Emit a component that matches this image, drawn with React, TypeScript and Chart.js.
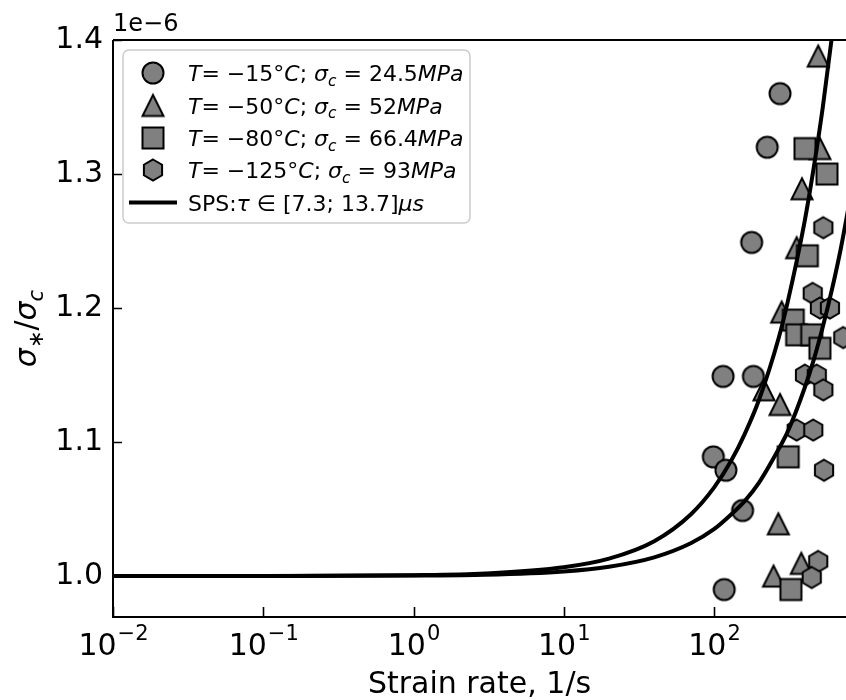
import React, { useEffect, useRef } from 'react';
import { Chart, registerables } from 'chart.js';

Chart.register(...registerables);

// ---- data ----
const circleX = [275, 226, 178, 115, 183, 99, 120, 155, 117];
const circleY = [1.36, 1.32, 1.249, 1.149, 1.149, 1.089, 1.079, 1.049, 0.99];

const triangleX = [494, 507, 385, 355, 282, 215, 275, 268, 249, 381];
const triangleY = [1.388, 1.319, 1.289, 1.245, 1.197, 1.139, 1.128, 1.039, 1.0, 1.0095];

const squareX = [403, 565, 418, 337, 355, 447, 507, 312, 325];
const squareY = [1.319, 1.3, 1.239, 1.191, 1.18, 1.18, 1.17, 1.089, 0.99];

const hexX = [534, 454, 507, 591, 725, 403, 483, 534, 355, 458, 540, 494, 447];
const hexY = [1.26, 1.211, 1.2, 1.2, 1.178, 1.15, 1.15, 1.139, 1.109, 1.109, 1.079, 1.011, 0.999];

const curveX = [0.01, 0.1, 1, 3, 10, 20, 40, 70, 100, 130, 160, 200, 270, 310, 400, 460, 530, 610, 700, 800];
const sps1Y = [1.0, 1.0001, 1.0007, 1.002, 1.0066, 1.013, 1.026, 1.046, 1.066, 1.086, 1.106, 1.132, 1.178, 1.205, 1.264, 1.304, 1.35, 1.403, 1.462, 1.528];
const sps2Y = [1.0, 1.00004, 1.0004, 1.001, 1.0035, 1.007, 1.014, 1.0245, 1.035, 1.046, 1.056, 1.07, 1.095, 1.108, 1.14, 1.161, 1.186, 1.214, 1.245, 1.28];

const xTickValues = [0.01, 0.1, 1, 10, 100];
const xTickExponents = ['\u22122', '\u22121', '0', '1', '2'];
const yTickValues = [1.0, 1.1, 1.2, 1.3, 1.4];

const FONT = '"DejaVu Sans", sans-serif';
const GRAY = '#808080';

type Seg = { t: string; it?: boolean; sub?: boolean };

const legendRows: Seg[][] = [
  [{ t: 'T', it: true }, { t: '= ' }, { t: '\u221215\u00b0' }, { t: 'C', it: true }, { t: '; ' }, { t: '\u03c3', it: true }, { t: 'c', it: true, sub: true }, { t: ' = 24.5' }, { t: 'MPa', it: true }],
  [{ t: 'T', it: true }, { t: '= ' }, { t: '\u221250\u00b0' }, { t: 'C', it: true }, { t: '; ' }, { t: '\u03c3', it: true }, { t: 'c', it: true, sub: true }, { t: ' = 52' }, { t: 'MPa', it: true }],
  [{ t: 'T', it: true }, { t: '= ' }, { t: '\u221280\u00b0' }, { t: 'C', it: true }, { t: '; ' }, { t: '\u03c3', it: true }, { t: 'c', it: true, sub: true }, { t: ' = 66.4' }, { t: 'MPa', it: true }],
  [{ t: 'T', it: true }, { t: '= ' }, { t: '\u2212125\u00b0' }, { t: 'C', it: true }, { t: '; ' }, { t: '\u03c3', it: true }, { t: 'c', it: true, sub: true }, { t: ' = 93' }, { t: 'MPa', it: true }],
  [{ t: 'SPS:' }, { t: '\u03c4', it: true }, { t: ' \u2208 ' }, { t: '[7.3; 13.7]' }, { t: '\u03bcs', it: true }],
];

const yLabelSegs: Seg[] = [
  { t: '\u03c3', it: true }, { t: '\u2217', sub: true }, { t: '/' }, { t: '\u03c3', it: true }, { t: 'c', it: true, sub: true },
];

function makeMarker(shape: string): HTMLCanvasElement {
  const S = 28;
  const c = document.createElement('canvas');
  c.width = S;
  c.height = S;
  const g = c.getContext('2d')!;
  const cx = S / 2, cy = S / 2, r = 10.5;
  g.beginPath();
  if (shape === 'circle') {
    g.arc(cx, cy, r, 0, Math.PI * 2);
  } else if (shape === 'triangle') {
    g.moveTo(cx, cy - r);
    g.lineTo(cx + r, cy + r);
    g.lineTo(cx - r, cy + r);
    g.closePath();
  } else if (shape === 'square') {
    g.rect(cx - r, cy - r, 2 * r, 2 * r);
  } else {
    for (let k = 0; k < 6; k++) {
      const a = -Math.PI / 2 + (k * Math.PI) / 3;
      const px = cx + r * Math.cos(a), py = cy + r * Math.sin(a);
      if (k === 0) g.moveTo(px, py); else g.lineTo(px, py);
    }
    g.closePath();
  }
  g.fillStyle = GRAY;
  g.fill();
  g.lineWidth = 2;
  g.lineJoin = 'miter';
  g.strokeStyle = '#000';
  g.stroke();
  return c;
}

function drawRich(ctx: CanvasRenderingContext2D, segs: Seg[], x: number, y: number, size: number, align: 'left' | 'center') {
  const parts = segs.map((s) => {
    const fs = s.sub ? size * 0.7 : size;
    const font = `${s.it ? 'italic ' : ''}${fs}px ${FONT}`;
    ctx.font = font;
    return { s, font, w: ctx.measureText(s.t).width };
  });
  const total = parts.reduce((a, p) => a + p.w, 0);
  let cx = align === 'center' ? x - total / 2 : x;
  ctx.textAlign = 'left';
  ctx.textBaseline = 'alphabetic';
  for (const p of parts) {
    ctx.font = p.font;
    ctx.fillText(p.s.t, cx, y + (p.s.sub ? size * 0.22 : 0));
    cx += p.w;
  }
}

export default function App() {
  const ref = useRef<HTMLCanvasElement | null>(null);

  useEffect(() => {
    const canvas = ref.current;
    if (!canvas) return;
    const markers = {
      circle: makeMarker('circle'),
      triangle: makeMarker('triangle'),
      square: makeMarker('square'),
      hex: makeMarker('hex'),
    };

    const decor = {
      id: 'decor',
      afterDraw(chart: any) {
        const ctx: CanvasRenderingContext2D = chart.ctx;
        const area = chart.chartArea;
        const xs = chart.scales.x;
        const ys = chart.scales.y;
        ctx.save();
        ctx.fillStyle = '#000';
        ctx.strokeStyle = '#000';
        // spines
        ctx.lineWidth = 2;
        ctx.beginPath();
        ctx.moveTo(area.left, area.top);
        ctx.lineTo(area.left, area.bottom);
        ctx.lineTo(area.right + 2, area.bottom);
        ctx.moveTo(area.left, area.top);
        ctx.lineTo(area.right + 2, area.top);
        ctx.stroke();
        // inward ticks
        ctx.lineWidth = 1.6;
        ctx.beginPath();
        xTickValues.forEach((v) => {
          const px = Math.round(xs.getPixelForValue(v)) + 0.5;
          ctx.moveTo(px, area.bottom);
          ctx.lineTo(px, area.bottom - 10);
        });
        yTickValues.forEach((v) => {
          const py = Math.round(ys.getPixelForValue(v)) + 0.5;
          ctx.moveTo(area.left, py);
          ctx.lineTo(area.left + 9, py);
        });
        ctx.stroke();
        // x tick labels 10^n
        xTickValues.forEach((v, i) => {
          const px = xs.getPixelForValue(v);
          ctx.font = `30px ${FONT}`;
          const wb = ctx.measureText('10').width;
          ctx.font = `21px ${FONT}`;
          const we = ctx.measureText(xTickExponents[i]).width;
          const x0 = px - (wb + we) / 2;
          ctx.textAlign = 'left';
          ctx.textBaseline = 'alphabetic';
          ctx.font = `30px ${FONT}`;
          ctx.fillText('10', x0, 655);
          ctx.font = `21px ${FONT}`;
          ctx.fillText(xTickExponents[i], x0 + wb + 1, 640);
        });
        // x title
        ctx.font = `30px ${FONT}`;
        ctx.textAlign = 'center';
        ctx.textBaseline = 'alphabetic';
        ctx.fillText('Strain rate, 1/s', (area.left + 846) / 2, 693);
        // offset text
        ctx.font = `24px ${FONT}`;
        ctx.textAlign = 'left';
        ctx.fillText('1e\u22126', area.left, 31);
        // y title rotated
        ctx.save();
        ctx.translate(36, (area.top + area.bottom) / 2);
        ctx.rotate(-Math.PI / 2);
        drawRich(ctx, yLabelSegs, 0, 0, 30, 'center');
        ctx.restore();
        // legend
        const lx = 123, ly = 50, lw = 347, lh = 173;
        ctx.beginPath();
        ctx.roundRect(lx, ly, lw, lh, 6);
        ctx.fillStyle = 'rgba(255,255,255,0.8)';
        ctx.fill();
        ctx.strokeStyle = '#cccccc';
        ctx.lineWidth = 1.5;
        ctx.stroke();
        const rowY = [73, 105.5, 138, 170, 202.5];
        const imgs = [markers.circle, markers.triangle, markers.square, markers.hex];
        ctx.fillStyle = '#000';
        rowY.forEach((ry, i) => {
          if (i < 4) {
            const im = imgs[i];
            ctx.drawImage(im, 153 - im.width / 2, ry - im.height / 2);
          } else {
            ctx.strokeStyle = '#000';
            ctx.lineWidth = 4;
            ctx.beginPath();
            ctx.moveTo(129, ry);
            ctx.lineTo(177, ry);
            ctx.stroke();
          }
          drawRich(ctx, legendRows[i], 188, ry + 8, 22, 'left');
        });
        ctx.restore();
      },
    };

    const pts = (xs: number[], ys: number[]) => xs.map((x, i) => ({ x, y: ys[i] }));

    const chart = new Chart(canvas, {
      type: 'scatter',
      data: {
        datasets: [
          { type: 'line', label: 'SPS 1', data: pts(curveX, sps1Y), borderColor: '#000', borderWidth: 4, pointRadius: 0, cubicInterpolationMode: 'monotone', fill: false, order: 1, clip: 0 } as any,
          { type: 'line', label: 'SPS 2', data: pts(curveX, sps2Y), borderColor: '#000', borderWidth: 4, pointRadius: 0, cubicInterpolationMode: 'monotone', fill: false, order: 1, clip: 0 } as any,
          { label: 'T=-15', data: pts(circleX, circleY), pointStyle: markers.circle, pointRadius: 11, order: 5, clip: 0 } as any,
          { label: 'T=-50', data: pts(triangleX, triangleY), pointStyle: markers.triangle, pointRadius: 11, order: 4, clip: 0 } as any,
          { label: 'T=-80', data: pts(squareX, squareY), pointStyle: markers.square, pointRadius: 11, order: 3, clip: 0 } as any,
          { label: 'T=-125', data: pts(hexX, hexY), pointStyle: markers.hex, pointRadius: 11, order: 2, clip: 0 } as any,
        ],
      },
      options: {
        animation: false,
        responsive: false,
        devicePixelRatio: 1,
        layout: { autoPadding: false, padding: { top: 40, left: 0, right: 0, bottom: 0 } },
        plugins: { legend: { display: false }, tooltip: { enabled: false } },
        scales: {
          x: {
            type: 'logarithmic',
            min: 0.01,
            max: 756,
            grid: { display: false, drawTicks: false },
            border: { display: false },
            ticks: { display: false },
            afterBuildTicks: (s: any) => { s.ticks = xTickValues.map((v) => ({ value: v })); },
            afterFit: (s: any) => { s.height = 83; },
          },
          y: {
            type: 'linear',
            min: 0.9695,
            max: 1.4,
            grid: { display: false, drawTicks: false },
            border: { display: false },
            ticks: {
              color: '#000',
              padding: 10,
              font: { family: FONT, size: 30 },
              callback: (v: any) => Number(v).toFixed(1),
            },
            afterBuildTicks: (s: any) => { s.ticks = yTickValues.map((v) => ({ value: v })); },
            afterFit: (s: any) => { s.width = 113; },
          },
        },
      } as any,
      plugins: [decor],
    });

    return () => chart.destroy();
  }, []);

  return (
    <div style={{ position: 'absolute', left: 0, top: 0, width: 846, height: 700, background: '#fff' }}>
      <canvas ref={ref} width={846} height={700} style={{ display: 'block', width: 846, height: 700 }} />
    </div>
  );
}
